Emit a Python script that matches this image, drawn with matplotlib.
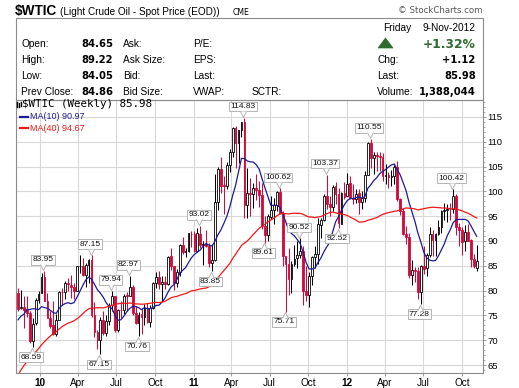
import numpy as np
import pandas as pd
import matplotlib
matplotlib.use('Agg')
import matplotlib.pyplot as plt
import matplotlib.dates as mdates
from matplotlib.patches import Rectangle, Polygon
from matplotlib.lines import Line2D
from matplotlib.path import Path
from matplotlib.transforms import offset_copy

W, H = 519, 388

# ---------------- data ----------------
# weekly closes before the visible window (needed for the moving averages)
pre_closes = [37.51, 38.94, 44.76, 45.52, 46.25, 51.06, 52.38, 52.51, 52.24, 50.33,
              51.55, 53.20, 58.63, 56.34, 61.67, 66.31, 68.44, 72.04, 69.55, 69.16,
              66.73, 59.89, 63.56, 68.05, 69.45, 70.93, 67.51, 73.89, 72.74, 68.02,
              69.29, 72.04, 66.02, 69.95, 71.77, 78.53, 80.50, 77.00, 79.62]

first_week = '2009-11-09'

opens = [79.6, 76.4, 76.7, 76.1, 75.5, 69.9, 73.4, 78.1, 79.6, 82.8,
         78.0, 74.5, 73.0, 71.2, 74.1, 79.8, 79.7, 81.5, 81.2, 80.7,
         80.0, 84.9, 84.9, 83.2, 85.1, 86.2, 75.1, 71.6, 70.0, 74.0,
         71.5, 73.8, 77.2, 78.9, 72.1, 76.1, 76.0, 79.0, 79.0, 80.7,
         75.4, 73.5, 75.2, 74.6, 76.5, 73.7, 76.5, 81.6, 82.7, 81.3,
         81.7, 81.4, 86.9, 84.9, 81.5, 83.8, 89.2, 87.8, 88.0, 91.5,
         91.4, 88.0, 91.5, 89.1, 89.3, 89.0, 85.6, 86.2, 97.9, 104.4,
         101.2, 101.1, 105.4, 107.9, 112.8, 109.7, 112.3, 113.9, 97.2, 99.6,
         99.5, 100.6, 100.2, 99.3, 93.0, 91.2, 94.9, 96.2, 97.2, 99.9,
         95.7, 86.9, 85.4, 82.3, 85.4, 86.5, 87.2, 88.0, 79.9, 79.2,
         83.0, 86.8, 87.4, 93.3, 94.3, 99.0, 97.4, 96.8, 101.0, 99.4,
         93.5, 99.7, 99.0, 101.6, 98.7, 98.5, 99.6, 97.8, 98.7, 103.2,
         109.8, 106.7, 107.4, 107.1, 106.9, 103.0, 103.3, 102.8, 103.1, 104.9,
         98.5, 96.1, 91.5, 90.9, 83.2, 84.1, 84.0, 79.8, 85.0, 84.5,
         87.1, 91.4, 90.1, 91.4, 92.9, 96.0, 96.2, 96.5, 96.4, 99.0,
         92.9, 92.2, 89.9, 91.9, 90.1, 86.3, 84.65]

highs = [80.5, 80.2, 79.0, 79.0, 75.9, 74.4, 78.5, 80.0, 83.5, 83.95,
         79.5, 75.8, 78.0, 75.3, 80.0, 80.6, 82.0, 82.5, 83.2, 81.5,
         85.0, 87.09, 86.6, 85.5, 86.3, 87.15, 77.7, 72.0, 74.6, 75.8,
         75.0, 77.6, 79.94, 79.0, 76.3, 78.0, 79.4, 79.8, 82.97, 81.2,
         76.9, 75.6, 76.5, 77.3, 77.5, 77.0, 81.7, 83.7, 84.0, 83.0,
         83.0, 87.0, 88.6, 85.0, 84.3, 89.4, 90.8, 88.6, 91.6, 92.0,
         92.0, 92.6, 93.02, 90.0, 92.2, 89.5, 89.3, 103.4, 104.9, 106.9,
         103.0, 106.0, 108.5, 113.0, 113.2, 112.4, 114.0, 114.83, 104.6, 102.6,
         101.7, 103.4, 102.0, 101.6, 95.1, 95.4, 99.0, 98.7, 100.0, 100.62,
         96.0, 87.0, 88.5, 86.0, 89.2, 90.0, 90.52, 88.9, 84.9, 83.7,
         87.0, 89.0, 94.7, 94.6, 99.5, 103.37, 99.0, 101.2, 101.8, 100.6,
         99.9, 101.8, 103.7, 103.0, 101.4, 100.4, 100.4, 100.0, 104.0, 109.95,
         110.55, 108.0, 108.0, 108.0, 107.7, 105.5, 103.8, 104.2, 105.3, 106.2,
         98.6, 96.6, 93.0, 91.7, 86.2, 84.7, 84.8, 85.1, 88.9, 87.6,
         92.9, 92.3, 91.7, 94.3, 96.3, 97.6, 97.4, 97.7, 100.42, 99.5,
         93.7, 92.9, 93.2, 93.4, 90.3, 87.3, 89.22]

lows = [75.8, 76.2, 72.4, 74.6, 69.4, 68.59, 73.1, 77.6, 79.6, 78.0,
        74.8, 72.4, 71.0, 70.9, 74.0, 77.0, 78.3, 80.0, 78.6, 78.3,
        79.9, 83.6, 83.0, 80.7, 81.6, 74.6, 70.7, 68.2, 67.15, 71.0,
        70.8, 73.0, 75.8, 71.7, 71.6, 74.5, 75.3, 75.9, 78.9, 75.0,
        73.2, 70.76, 71.2, 73.0, 73.5, 72.6, 76.3, 80.6, 80.4, 78.0,
        80.3, 81.1, 84.2, 80.1, 80.7, 83.0, 87.4, 86.8, 87.8, 88.8,
        87.7, 87.8, 88.6, 85.1, 88.8, 84.7, 83.85, 86.0, 96.3, 99.7,
        95.4, 100.4, 103.8, 107.0, 104.7, 105.7, 111.0, 94.6, 94.6, 95.0,
        96.6, 98.2, 96.8, 92.4, 89.61, 90.0, 94.5, 93.5, 96.0, 95.4,
        85.0, 75.71, 79.2, 79.5, 85.0, 84.5, 86.5, 77.1, 78.0, 76.7,
        81.2, 84.5, 85.3, 90.6, 94.0, 96.5, 95.0, 96.0, 97.5, 92.52,
        93.4, 98.5, 99.0, 98.4, 97.4, 97.6, 95.4, 96.5, 97.8, 103.2,
        104.8, 103.4, 104.0, 104.0, 102.1, 101.5, 100.7, 101.1, 101.5, 98.0,
        95.2, 91.3, 89.3, 82.6, 81.2, 81.7, 78.4, 77.28, 83.3, 83.0,
        86.8, 86.9, 86.9, 91.3, 91.6, 94.3, 93.8, 94.2, 95.6, 91.2,
        88.9, 87.2, 88.0, 89.9, 84.7, 84.6, 84.05]

closes = [76.35, 76.72, 76.05, 75.47, 69.87, 73.36, 78.05, 79.36, 82.75, 78.00,
          74.54, 72.89, 71.19, 74.13, 79.81, 79.66, 81.50, 81.24, 80.68, 80.00,
          84.87, 84.92, 83.24, 85.12, 86.15, 75.11, 71.61, 70.04, 74.00, 71.51,
          73.78, 77.18, 78.86, 72.14, 76.09, 76.01, 78.98, 78.95, 80.70, 75.39,
          73.46, 75.17, 74.60, 76.45, 73.66, 76.49, 81.58, 82.66, 81.25, 81.69,
          81.43, 86.85, 84.88, 81.51, 83.76, 89.19, 87.79, 88.02, 91.51, 91.38,
          88.03, 91.54, 89.11, 89.34, 89.03, 85.58, 86.20, 97.88, 104.42, 101.16,
          101.07, 105.40, 107.94, 112.79, 109.66, 112.29, 113.93, 97.18, 99.65, 99.49,
          100.59, 100.22, 99.29, 93.01, 91.16, 94.94, 96.20, 97.24, 99.87, 95.70,
          86.88, 85.38, 82.26, 85.37, 86.45, 87.24, 87.96, 79.85, 79.20, 82.98,
          86.80, 87.40, 93.32, 94.26, 98.99, 97.41, 96.77, 100.96, 99.41, 93.53,
          99.68, 98.83, 101.56, 98.70, 98.46, 99.56, 97.84, 98.67, 103.24, 109.77,
          106.70, 107.40, 107.06, 106.87, 103.02, 103.31, 102.83, 103.05, 104.93, 98.49,
          96.13, 91.48, 90.86, 83.23, 84.10, 84.03, 79.76, 84.96, 84.45, 87.10,
          91.44, 90.13, 91.40, 92.87, 96.01, 96.15, 96.47, 96.42, 99.00, 92.89,
          92.19, 89.88, 91.86, 90.05, 86.28, 84.86, 85.98]

# annotated swing points (week index)
callout_high_idx = [9, 25, 32, 38, 62, 77, 89, 96, 105, 120, 148]
callout_low_idx = [5, 28, 41, 66, 84, 91, 109, 137]

y_ticks = [65, 70, 75, 80, 85, 90, 95, 100, 105, 110, 115]
x_tick_dates = ['2010-01-01', '2010-04-01', '2010-07-01', '2010-10-01',
                '2011-01-01', '2011-04-01', '2011-07-01', '2011-10-01',
                '2012-01-01', '2012-04-01', '2012-07-01', '2012-10-01']
x_tick_labels = ['10', 'Apr', 'Jul', 'Oct', '11', 'Apr', 'Jul', 'Oct',
                 '12', 'Apr', 'Jul', 'Oct']

legend_main = '$WTIC (Weekly) 85.98'
legend_ma10 = 'MA(10) 90.97'
legend_ma40 = 'MA(40) 94.67'

# ---------------- style ----------------
RED = '#d10a3c'
BLACK = '#000000'
NAVY = '#1c1c96'
MARED = '#f01818'
GRID = '#d8d8d8'
FRAME = '#8c8c8c'
SANS = 'Liberation Sans'

fig = plt.figure(figsize=(W / 100, H / 100), dpi=100)
fig.patch.set_facecolor('white')
ax = fig.add_axes([16 / W, (H - 373) / H, 467 / W, 273 / H])

o = np.array(opens); h = np.array(highs); l = np.array(lows); c = np.array(closes)
dates = pd.date_range(first_week, periods=len(c), freq='7D')
xd = mdates.date2num(dates)

allc = pd.Series(pre_closes + closes)
n = len(c)
ma10 = allc.rolling(10).mean().values[-n:]
ma40 = allc.rolling(40).mean().values[-n:]

prev = np.r_[pre_closes[-1], c[:-1]]
col = np.where(c >= prev, BLACK, RED)
hollow = c > o
fc = ['white' if hh else cc for hh, cc in zip(hollow, col)]

ax.vlines(xd, l, h, colors=col, lw=0.75, zorder=3)
bottoms = np.minimum(o, c)
heights = np.maximum(np.abs(c - o), 0.12)
ax.bar(xd, heights, bottom=bottoms, width=4.2, color=fc, edgecolor=col,
       linewidth=0.6, zorder=4)

ax.plot(xd, ma10, color=NAVY, lw=0.9, zorder=5)
ax.plot(xd, ma40, color=MARED, lw=0.9, zorder=5)

ax.set_xlim(mdates.date2num(pd.Timestamp('2009-11-04 05:00')),
            mdates.date2num(pd.Timestamp('2012-11-20')))
ax.set_ylim(63.4, 118.4)

# axes styling
for s in ax.spines.values():
    s.set_color(FRAME)
    s.set_linewidth(0.8)
ax.set_axisbelow(True)
ax.grid(True, which='major', color=GRID, lw=0.8, zorder=0)
ax.yaxis.tick_right()
ax.set_yticks(y_ticks)
ax.set_yticks(np.arange(64, 119, 1), minor=True)
ax.set_yticklabels([str(v) for v in y_ticks], fontfamily=SANS, fontsize=6.8)
ax.tick_params(axis='y', which='major', length=2.3, width=0.6, color=FRAME, pad=0.8)
ax.tick_params(axis='y', which='minor', length=1.1, width=0.5, color=FRAME)
ax.set_xticks(mdates.date2num(pd.to_datetime(x_tick_dates)))
ax.set_xticklabels(x_tick_labels, fontfamily=SANS, fontsize=7.2)
for lab in ax.get_xticklabels():
    if lab.get_text().isdigit():
        lab.set_fontweight('bold')
ax.tick_params(axis='x', which='major', length=2.3, width=0.6, color=FRAME, pad=1.2)

# callouts
vmark_dn = Path([(-1, 1), (0, -1), (1, 1)])
vmark_up = Path([(-1, -1), (0, 1), (1, -1)])
def callout(i, val, above):
    dy = 11 if above else -10
    ax.annotate(f'{val:.2f}', xy=(xd[i], val), xytext=(-1.5, dy),
                textcoords='offset pixels', ha='center', va='center',
                fontsize=6, fontfamily=SANS, color='#111111', zorder=7,
                bbox=dict(boxstyle='square,pad=0.15', fc='white', ec='#b4b4b4', lw=0.7))
    tr = offset_copy(ax.transData, fig=fig, x=-1, y=(3.5 if above else -3.5), units='dots')
    ax.plot([xd[i]], [val], transform=tr, marker=vmark_dn if above else vmark_up,
            ms=4.3, mfc='white', mec='#b4b4b4', mew=0.7, zorder=8, clip_on=False)

for i in callout_high_idx:
    callout(i, h[i], True)
for i in callout_low_idx:
    callout(i, l[i], False)

# ---------------- header & legend ----------------
def fx(px):
    return px / W
def fy(py):
    return 1 - py / H

fig.text(fx(15), fy(15), '$WTIC', fontfamily=SANS, fontweight='bold', fontsize=9.8, va='baseline')
fig.text(fx(60), fy(15), '(Light Crude Oil - Spot Price (EOD))', fontfamily=SANS, fontsize=7.2, va='baseline')
fig.text(fx(233), fy(15), 'CME', fontfamily='DejaVu Sans', fontsize=5.6, va='baseline')
fig.text(fx(482), fy(13), '\u00a9 StockCharts.com', fontfamily='DejaVu Sans', fontsize=6.2,
         color='#555555', ha='right', va='baseline')

fig.add_artist(Rectangle((fx(16), fy(100)), 466.7 / W, 82 / H, transform=fig.transFigure,
                         fill=False, ec=FRAME, lw=0.8))

rows_y = [46.7, 63, 79, 95]
left_labels = ['Open:', 'High:', 'Low:', 'Prev Close:']
left_vals = ['84.65', '89.22', '84.05', '84.86']
col2 = ['Ask:', 'Ask Size:', 'Bid:', 'Bid Size:']
col3 = ['P/E:', 'EPS:', 'Last:', 'VWAP:']
for y, a, v, b, d in zip(rows_y, left_labels, left_vals, col2, col3):
    fig.text(fx(21), fy(y), a, fontfamily=SANS, fontsize=7.3, va='baseline')
    fig.text(fx(81.5), fy(y), v, fontfamily='DejaVu Sans', fontweight='bold', fontsize=7.2, va='baseline')
    fig.text(fx(123), fy(y), b, fontfamily=SANS, fontsize=7.3, va='baseline')
    fig.text(fx(193), fy(y), d, fontfamily=SANS, fontsize=7.3, va='baseline')
fig.text(fx(252), fy(95), 'SCTR:', fontfamily=SANS, fontsize=7.3, va='baseline')

fig.text(fx(383), fy(30.7), 'Friday', fontfamily=SANS, fontsize=7.3, va='baseline')
fig.text(fx(475.7), fy(30.7), '9-Nov-2012', fontfamily=SANS, fontsize=7.3, va='baseline', ha='right')
GREEN = '#2f6a2f'
fig.add_artist(Polygon([(fx(378), fy(48)), (fx(393), fy(48)), (fx(385.5), fy(38))],
                       closed=True, transform=fig.transFigure, fc=GREEN, ec=GREEN, lw=0.5))
fig.text(fx(475.7), fy(48), '+1.32%', fontfamily='DejaVu Sans', fontweight='bold', fontsize=8.8,
         color=GREEN, ha='right', va='baseline')
for y, a, v in zip([63, 79, 95], ['Chg:', 'Last:', 'Volume:'], ['+1.12', '85.98', '1,388,044']):
    fig.text(fx(377.3), fy(y), a, fontfamily=SANS, fontsize=7.3, va='baseline')
    fig.text(fx(475.7), fy(y), v, fontfamily='DejaVu Sans', fontweight='bold', fontsize=7.2,
             ha='right', va='baseline')

# legend icon
for xx, y0, y1 in [(17, 101.5, 106.5), (18.8, 102.5, 107), (20.5, 101.5, 106)]:
    fig.add_artist(Line2D([fx(xx), fx(xx)], [fy(y0), fy(y1)], transform=fig.transFigure,
                          color='black', lw=1.0))
fig.text(fx(22), fy(107.3), legend_main, fontfamily='DejaVu Sans Mono', fontsize=7.8, va='baseline')
fig.add_artist(Line2D([fx(20), fx(28)], [fy(116.5), fy(116.5)], transform=fig.transFigure,
                      color=NAVY, lw=1.6))
fig.text(fx(30), fy(119.3), legend_ma10, fontfamily=SANS, fontsize=6.5, color=NAVY, va='baseline')
fig.add_artist(Line2D([fx(20), fx(28)], [fy(128.3), fy(128.3)], transform=fig.transFigure,
                      color=MARED, lw=1.6))
fig.text(fx(30), fy(131.2), legend_ma40, fontfamily=SANS, fontsize=6.5, color=MARED, va='baseline')

fig.savefig('out.png', dpi=100, facecolor='white')
